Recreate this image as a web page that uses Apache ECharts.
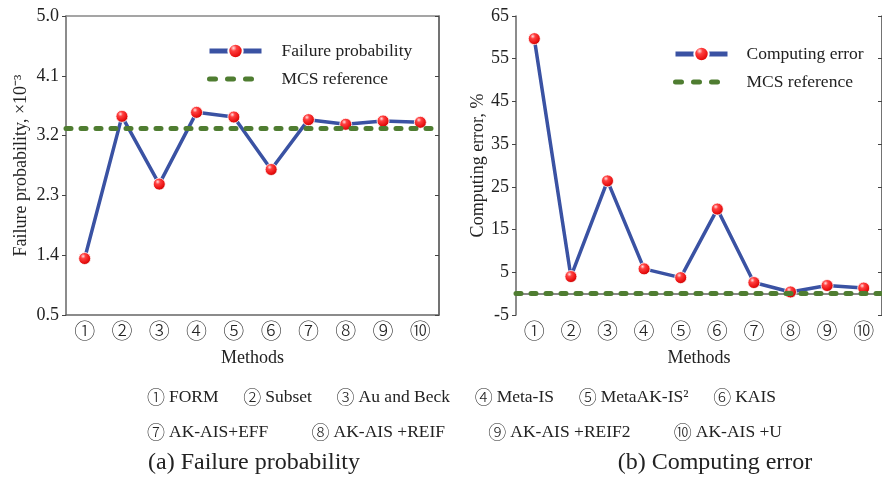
<!DOCTYPE html>
<html><head><meta charset="utf-8">
<script src="https://cdn.jsdelivr.net/npm/echarts@6/dist/echarts.min.js"></script>
<style>html,body{margin:0;padding:0;background:#fff}#c{width:882px;height:485px}</style>
</head><body><div id="c"></div>
<script>
// ---- data ----
const methods = ['①','②','③','④','⑤','⑥','⑦','⑧','⑨','⑩'];
const failureProb = [1.35, 3.49, 2.47, 3.55, 3.48, 2.69, 3.44, 3.37, 3.42, 3.40];
const mcsFailureProb = [3.31];
const computingError = [59.7, 4.0, 26.4, 5.8, 3.75, 19.8, 2.6, 0.4, 1.9, 1.3];
const mcsError = [0];
const pfAxis = [0.5, 5.0, 0.9];      // min, max, step
const errAxis = [-5, 65, 10];        // min, max, step
const listNums1 = ['①','②','③','④','⑤','⑥'];
const listNames1 = ['FORM','Subset','Au and Beck','Meta-IS','MetaAK-IS²','KAIS'];
const listNums2 = ['⑦','⑧','⑨','⑩'];
const listNames2 = ['AK-AIS+EFF','AK-AIS +REIF','AK-AIS +REIF2','AK-AIS +U'];
const captions = ['(a) Failure probability','(b) Computing error'];

// ---- styles ----
const FONT = '"Liberation Serif", "Times New Roman", serif';
const CJK = '"Noto Sans CJK JP", "Noto Sans CJK SC", sans-serif';
const BLUE = '#3a52a3';
const GREEN = '#4f7d31';
const AX = '#666';
const sphere = {type:'radial', x:0.38, y:0.32, r:0.75, colorStops:[
  {offset:0, color:'#ffe0e0'},{offset:0.25, color:'#ff4040'},{offset:0.7, color:'#e80f0f'},{offset:1, color:'#b00000'}]};

function xAxes(grid){
  return [
    {gridIndex:grid, type:'category', data:methods, position:'bottom', boundaryGap:true,
     axisLine:{lineStyle:{color:AX, width:1.5}},
     axisTick:{alignWithLabel:true, length:4, lineStyle:{color:'#444'}},
     axisLabel:{fontFamily:CJK, fontSize:21, fontWeight:300, color:'#222', margin:5},
     name:'Methods', nameLocation:'middle', nameGap:34,
     nameTextStyle:{fontFamily:FONT, fontSize:18, color:'#222'}},
    {gridIndex:grid, type:'category', data:methods, position:'top', boundaryGap:true,
     axisLine:{lineStyle:{color:'#888', width:1.5}},
     axisTick:{inside:true, alignWithLabel:true, length:4, lineStyle:{color:'#444'}},
     axisLabel:{show:false}}
  ];
}
function yAxes(grid, ax, name, gap, fmt){
  return [
    {gridIndex:grid, type:'value', position:'left', min:ax[0], max:ax[1], interval:ax[2],
     axisLine:{show:true, lineStyle:{color:AX, width:1.5}},
     axisTick:{show:true, length:4, lineStyle:{color:'#444'}},
     splitLine:{show:false},
     axisLabel:{fontFamily:FONT, fontSize:18, color:'#222', margin:7, formatter:fmt},
     name:name, nameLocation:'middle', nameGap:gap,
     nameTextStyle:{fontFamily:FONT, fontSize:18, color:'#222'}},
    {gridIndex:grid, type:'value', position:'right', min:ax[0], max:ax[1], interval:ax[2],
     axisLine:{show:true, lineStyle:{color:'#444', width:1.5}},
     axisTick:{show:true, inside:true, length:4, lineStyle:{color:'#444'}},
     splitLine:{show:false}, axisLabel:{show:false}}
  ];
}
function mainSeries(name, data, xi, yi){
  return {name:name, type:'line', xAxisIndex:xi, yAxisIndex:yi, data:data, z:3,
    symbol:'circle', symbolSize:12, showSymbol:true,
    lineStyle:{color:BLUE, width:3.5},
    itemStyle:{color:sphere, borderColor:'#ffffff', borderWidth:0.8},
    emphasis:{disabled:true}};
}
const refLine = {color:GREEN, width:5, type:[5,10], cap:'round'};
function refSeries(val, xi, yi){
  return {name:'MCS reference', type:'line', xAxisIndex:xi, yAxisIndex:yi, data:[], z:2,
    symbol:'none', lineStyle:refLine, itemStyle:{color:GREEN},
    markLine:{silent:true, symbol:['none','none'], label:{show:false}, lineStyle:refLine,
      emphasis:{disabled:true}, data:[{yAxis:val}]}};
}
function legend(mainName, left, top, pad){
  return {left:left, top:top, orient:'vertical', itemWidth:52, itemHeight:18, itemGap:10,
    selectedMode:false,
    data:[
      {name:mainName, lineStyle:{width:5}},
      {name:'MCS reference', itemStyle:{opacity:0},
       lineStyle:{width:5, type:[6,12], cap:'round', color:GREEN, opacity:1}}
    ],
    textStyle:{fontFamily:FONT, fontSize:17.5, color:'#222', padding:[0,0,0,pad]}};
}

// ---- bottom text layout (measured, evenly spaced between row ends) ----
const ctx = document.createElement('canvas').getContext('2d');
function tw(font, t){ ctx.font = font; return ctx.measureText(t).width; }
const NUM_FONT = '300 18px ' + CJK;
const NAME_FONT = '17.5px ' + FONT;
const graphics = [];
function addRow(nums, names, x0, x1, y){
  const nw = nums.map(n=>tw(NUM_FONT, n));
  const tws = names.map(t=>tw(NAME_FONT, t));
  const total = nw.reduce((a,b)=>a+b,0) + tws.reduce((a,b)=>a+b,0) + 4*nums.length;
  const gap = (x1 - x0 - total) / (nums.length - 1);
  let x = x0;
  nums.forEach((n,i)=>{
    graphics.push({type:'text', x:x, y:y, style:{text:n, font:NUM_FONT, fill:'#222', verticalAlign:'middle'}});
    x += nw[i] + 4;
    graphics.push({type:'text', x:x, y:y, style:{text:names[i], font:NAME_FONT, fill:'#222', verticalAlign:'middle'}});
    x += tws[i] + gap;
  });
}
addRow(listNums1, listNames1, 147, 776, 397);
addRow(listNums2, listNames2, 147, 782, 432);
const capCX = [254, 715];
captions.forEach((t,i)=>graphics.push({type:'text', x:capCX[i], y:463,
  style:{text:t, font:'24px '+FONT, fill:'#222', verticalAlign:'middle', align:'center'}}));

const chart = echarts.init(document.getElementById('c'), null, {renderer:'canvas'});
chart.setOption({
  animation:false,
  backgroundColor:'#ffffff',
  grid:[{left:66, top:16, width:373, height:299}, {left:516, top:16, width:372, height:299}],
  xAxis:[...xAxes(0), ...xAxes(1)],
  yAxis:[...yAxes(0, pfAxis, 'Failure probability, ×10⁻³', 36, v=>v.toFixed(1)),
         ...yAxes(1, errAxis, 'Computing error, %', 28, v=>String(Math.round(v)))],
  legend:[legend('Failure probability', 202, 37, 15),
          legend('Computing error', 668, 40, 14)],
  series:[mainSeries('Failure probability', failureProb, 0, 0), refSeries(mcsFailureProb[0], 0, 0),
          mainSeries('Computing error', computingError, 2, 2), refSeries(mcsError[0], 2, 2)],
  graphic:graphics
});
</script></body></html>
